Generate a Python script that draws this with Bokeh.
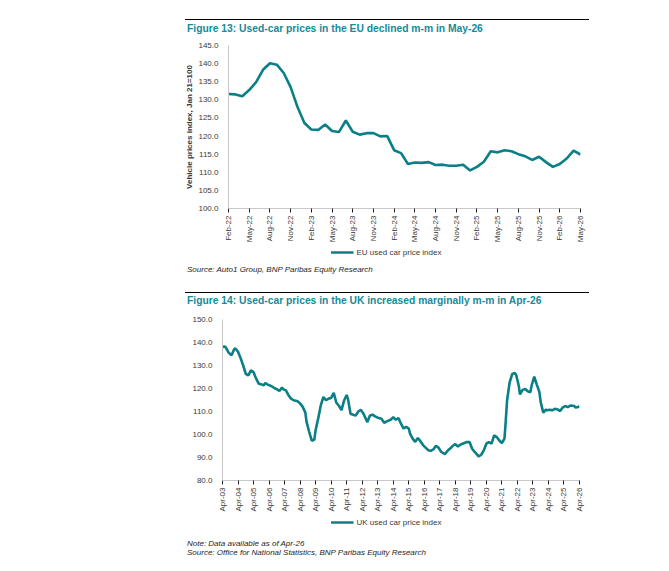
import math
from bokeh.plotting import figure
from bokeh.models import (Range1d, FixedTicker, PrintfTickFormatter, Legend, LegendItem,
                          Div, Spacer)
from bokeh.layouts import column, row
from bokeh.embed import file_html
from bokeh.resources import INLINE

# ---------------- data ----------------
eu_title = "Figure 13: Used-car prices in the EU declined m-m in May-26"
eu_series_name = "EU used car price index"
eu_y_label = "Vehicle prices index, Jan 21=100"
eu_source = "Source: Auto1 Group, BNP Paribas Equity Research"
# monthly, Feb-22 .. May-26
eu_values = [
    131.6, 131.5, 131.0, 132.7, 134.9, 138.3, 140.1, 139.7, 137.4, 133.5, 128.0,          # 2022 Feb-Dec
    123.6, 121.8, 121.7, 123.2, 121.4, 121.1, 124.3, 121.2, 120.4, 120.8, 120.8, 119.9,    # 2023
    120.0, 116.1, 115.3, 112.3, 112.7, 112.6, 112.8, 112.0, 112.1, 111.8, 111.8, 112.1,    # 2024
    110.5, 111.5, 112.9, 115.8, 115.5, 116.1, 115.8, 115.0, 114.4, 113.4, 114.3, 112.8,    # 2025
    111.5, 112.3, 113.8, 116.0, 114.9,                                                     # 2026 Jan-May
]
eu_tick_labels = ["Feb-22", "May-22", "Aug-22", "Nov-22", "Feb-23", "May-23", "Aug-23", "Nov-23",
                  "Feb-24", "May-24", "Aug-24", "Nov-24", "Feb-25", "May-25", "Aug-25", "Nov-25",
                  "Feb-26", "May-26"]
eu_y_ticks = [100, 105, 110, 115, 120, 125, 130, 135, 140, 145]

uk_title = "Figure 14: Used-car prices in the UK increased marginally m-m in Apr-26"
uk_series_name = "UK used car price index"
uk_note = "Note: Data available as of Apr-26"
uk_source = "Source: Office for National Statistics, BNP Paribas Equity Research"
# months elapsed since Apr-03
uk_month_offset = [
    0, 2, 4, 5, 7, 9, 10, 12, 14, 16, 18, 20, 22, 24, 26, 28, 30, 32, 33, 35, 38, 40, 42, 44,
    46, 47, 49, 51, 53, 55, 58, 60, 62, 64, 65, 67, 69, 71, 72, 74, 76, 78, 80, 82, 84, 86,
    88, 90, 92, 94, 96, 97, 99, 101, 103, 105, 107, 109, 112, 114, 116, 118, 120, 123, 125,
    127, 130, 132, 134, 136, 138, 140, 142, 144, 145, 147, 149, 151, 153, 155, 157, 159, 161,
    163, 165, 167, 169, 172, 174, 176, 178, 180, 182, 184, 186, 189, 191, 193, 195, 198, 200,
    202, 204, 206, 208, 210, 212, 214, 216, 218, 219, 220, 222, 224, 226, 227, 229, 230, 232,
    234, 236, 238, 239, 241, 243, 245, 246, 248, 250, 251, 253, 255, 257, 259, 261, 263, 265,
    267, 269, 272, 273, 275, 276,
]
uk_values = [
    138.1, 138.3, 136.4, 135.4, 134.5, 137.1, 137.4, 136.0, 133.2, 130.0, 126.4, 125.7, 127.9,
    127.1, 124.3, 122.1, 121.8, 121.4, 122.4, 121.7, 121.0, 120.2, 119.7, 118.9,
    120.4, 119.7, 119.2, 117.1, 115.6, 114.9, 114.5, 113.5, 112.0, 109.6, 105.5, 101.2, 97.3,
    97.8, 101.9, 107.0, 112.7, 116.3, 114.9, 115.6, 115.9, 118.1,
    113.8, 112.5, 110.6, 114.8, 117.2, 115.5, 109.0, 108.6, 108.3, 110.0, 110.7, 109.0, 105.4,
    108.3, 108.6, 107.9, 107.3, 106.8, 105.1,
    105.7, 106.4, 107.6, 106.4, 107.2, 104.7, 102.6, 103.3, 102.6, 100.4, 98.2, 96.8, 98.5,
    97.1, 95.4, 94.3, 93.2, 92.9,
    93.5, 95.1, 94.3, 92.5, 91.5, 92.9, 93.9, 95.1, 95.8, 94.8, 95.6, 96.1, 96.7, 96.7, 93.8,
    92.4, 90.5, 91.2,
    93.1, 96.0, 96.7, 96.0, 99.6, 98.9, 97.4, 96.3, 98.2, 106.1, 114.8, 122.7, 126.3, 126.7,
    126.0, 121.3, 117.4, 119.4,
    119.8, 118.8, 118.4, 121.3, 125.2, 121.7, 118.4, 114.1, 109.5, 110.8, 110.5, 110.8, 110.5,
    111.2, 110.9, 110.2, 111.7, 112.4,
    111.9, 112.6, 112.4, 111.7, 112.0, 112.3,
]
uk_tick_labels = ["Apr-%02d" % y for y in range(3, 27)]
uk_y_ticks = [80, 90, 100, 110, 120, 130, 140, 150]

# ---------------- style ----------------
FONT = "Liberation Sans"
LINE = "#0b7f86"
TITLE_C = "#168a98"
TXT = "#3a3a3a"


def style(p, x_ticks, x_labels, y_ticks):
    p.background_fill_color = "white"
    p.border_fill_color = "white"
    p.outline_line_color = None
    p.grid.visible = False
    xa = p.xaxis[0]
    xa.ticker = FixedTicker(ticks=x_ticks)
    xa.major_label_overrides = {t: l for t, l in zip(x_ticks, x_labels)}
    xa.major_label_orientation = math.pi / 2
    xa.major_label_text_font = FONT
    xa.major_label_text_font_size = "8px"
    xa.major_label_text_color = TXT
    xa.axis_line_color = "#c8c8c8"
    xa.major_tick_line_color = "#222222"
    xa.major_tick_in = 0
    xa.major_tick_out = 4
    xa.minor_tick_line_color = None
    xa.major_label_standoff = 3
    ya = p.yaxis[0]
    ya.ticker = FixedTicker(ticks=y_ticks)
    ya.formatter = PrintfTickFormatter(format="%.1f")
    ya.major_label_text_font = FONT
    ya.major_label_text_font_size = "8px"
    ya.major_label_text_color = TXT
    ya.axis_line_color = "#c8c8c8"
    ya.major_tick_line_color = None
    ya.minor_tick_line_color = None
    ya.major_label_standoff = 4


def title_div(text, pad_top):
    html = ('<div style="width:404px;border-top:1px solid #000;padding:%dpx 0 0 2px;'
            "font-family:'Liberation Sans';font-weight:bold;font-size:10.3px;line-height:11px;"
            'color:%s;white-space:nowrap">%s</div>' % (pad_top, TITLE_C, text))
    return row(Spacer(width=5, height=1),
               Div(text=html, width=404, height=1 + pad_top + 11, margin=0))


def note_div(lines, pad_top, line_h, height):
    html = ('<div style="padding:%dpx 0 0 7px;font-family:\'Liberation Sans\';font-style:italic;'
            'font-size:8px;line-height:%dpx;color:#1e1e1e;white-space:nowrap">%s</div>'
            % (pad_top, line_h, "<br>".join(lines)))
    return Div(text=html, width=412, height=height, margin=0)


def legend_fig(name, xs, ys):
    # the series is drawn far outside this strip's range; only its legend swatch shows
    cap = figure(width=412, height=12, x_range=Range1d(0, 1), y_range=Range1d(0, 1),
                 output_backend="svg", toolbar_location=None,
                 x_axis_location=None, y_axis_location=None, min_border=0)
    cap.outline_line_color = None
    cap.grid.visible = False
    swatch = cap.line(xs, ys, line_color=LINE, line_width=2.6)
    lg = Legend(items=[LegendItem(label=name, renderers=[swatch])], location="center",
                orientation="horizontal", border_line_color=None, background_fill_alpha=0,
                label_text_font=FONT, label_text_font_size="8px", label_text_color=TXT,
                glyph_width=23, glyph_height=10, label_height=10, padding=0, margin=0,
                label_standoff=3)
    cap.add_layout(lg)
    return row(cap)


# ---------------- EU figure ----------------
eu_x = list(range(len(eu_values)))
p1 = figure(width=412, height=212, x_range=Range1d(0, 51), y_range=Range1d(100, 145),
            output_backend="svg", toolbar_location=None,
            min_border_left=48, min_border_right=12, min_border_top=11, min_border_bottom=38)
p1.line(eu_x, eu_values, line_color=LINE, line_width=2.6)
style(p1, list(range(0, 52, 3)), eu_tick_labels, eu_y_ticks)
ya1 = p1.yaxis[0]
ya1.axis_label = eu_y_label
ya1.axis_label_text_font = FONT
ya1.axis_label_text_font_size = "8px"
ya1.axis_label_text_font_style = "bold"
ya1.axis_label_text_color = TXT
ya1.axis_label_standoff = 1

# ---------------- UK figure ----------------
p2 = figure(width=411, height=210, x_range=Range1d(0, 276), y_range=Range1d(80, 150),
            output_backend="svg", toolbar_location=None,
            min_border_left=42, min_border_right=12, min_border_top=13, min_border_bottom=36)
p2.line(uk_month_offset, uk_values, line_color=LINE, line_width=2.6)
style(p2, list(range(0, 277, 12)), uk_tick_labels, uk_y_ticks)

body = column(
    Spacer(width=10, height=19),
    title_div(eu_title, 3),
    row(p1),
    legend_fig(eu_series_name, eu_x, eu_values),
    note_div([eu_source], 7, 10, 34),
    title_div(uk_title, 2),
    row(p2),
    legend_fig(uk_series_name, uk_month_offset, uk_values),
    note_div([uk_note, uk_source], 11, 9, 32),
)
layout = row(Spacer(width=180, height=10), body)

open("out.html", "w").write(file_html(layout, INLINE))
